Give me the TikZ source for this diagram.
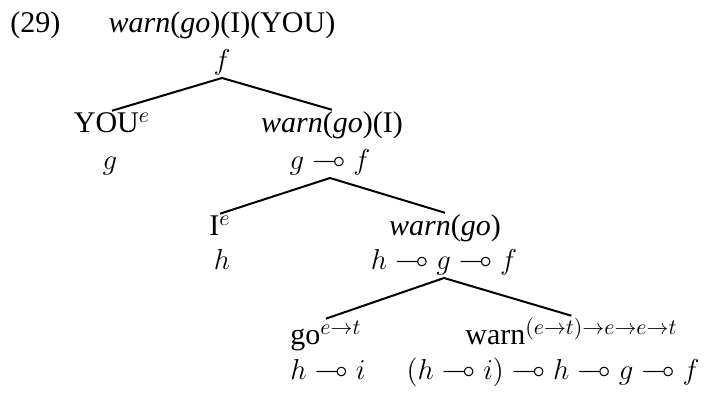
\documentclass[tikz,border=0pt]{standalone}
\usepackage{amssymb}
\usepackage{fontspec}
\setmainfont{Liberation Serif}
\begin{document}
\begin{tikzpicture}[x=0.5pt,y=-0.5pt,
  every node/.style={font=\fontsize{15}{18}\selectfont, inner sep=1pt},
  lbl/.style={anchor=base},
  lblw/.style={anchor=base west},
  lble/.style={anchor=base east},
  edge/.style={line width=1pt}]
\useasboundingbox (0,0) rectangle (706,394);
% labels
\node[lblw] (num) at (8,33) {(29)};
\node[lbl] (top) at (222,33) {\textit{warn}(\textit{go})(I)(YOU)};
\node[lbl] (f) at (222,70) {$f$};
\node[lbl] (you) at (112,133) {YOU$^e$};
\node[lbl] (g1) at (110,170) {$g$};
\node[lbl] (wgi) at (332,133) {\textit{warn}(\textit{go})(I)};
\node[lbl] (gf) at (330,170) {$g \multimap f$};
\node[lbl] (ie) at (220,236) {I$^e$};
\node[lbl] (h1) at (222,270) {$h$};
\node[lbl] (wg) at (445,236) {\textit{warn}(\textit{go})};
\node[lbl] (hgf) at (444,270) {$h \multimap g \multimap f$};
\node[lblw] (go) at (288,345) {go$^{e\rightarrow t}$};
\node[lblw] (hi) at (288,380) {$h \multimap i$};
\node[lblw] (warn) at (463,345) {warn$^{(e\rightarrow t)\rightarrow e\rightarrow e\rightarrow t}$};
\node[lble] (big) at (702,380) {$(h \multimap i) \multimap h \multimap g \multimap f$};
% connectors
\draw[edge] (f.south) -- (you.north);
\draw[edge] (f.south) -- (wgi.north);
\draw[edge] (gf.south) -- (ie.north);
\draw[edge] (gf.south) -- (wg.north);
\draw[edge] (hgf.south) -- (go.north);
\draw[edge] (hgf.south) -- (warn.north);
\end{tikzpicture}
\end{document}
